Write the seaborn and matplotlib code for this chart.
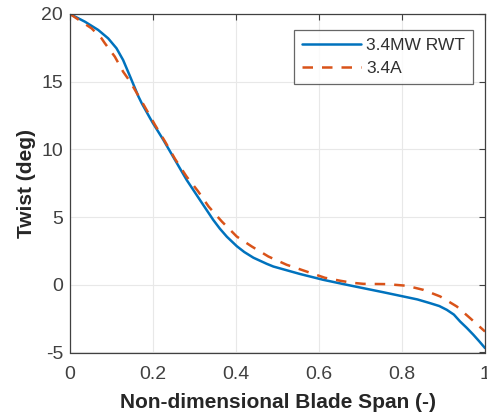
import numpy as np
import pandas as pd
import matplotlib
matplotlib.use("Agg")
import matplotlib.pyplot as plt
import seaborn as sns

span_rwt = [0.0, 0.036, 0.068, 0.092, 0.112, 0.128, 0.145, 0.165, 0.173, 0.193, 0.2,
            0.225, 0.253, 0.281, 0.313, 0.345, 0.361, 0.378, 0.402, 0.42, 0.442,
            0.474, 0.49, 0.554, 0.61, 0.667, 0.707, 0.755, 0.803, 0.837, 0.867,
            0.89, 0.908, 0.925, 0.94, 0.956, 0.972, 0.986, 1.0]
twist_rwt = [20.0, 19.43, 18.82, 18.2, 17.47, 16.6, 15.37, 13.9, 13.4, 12.3, 11.93,
             10.7, 9.22, 7.75, 6.27, 4.8, 4.15, 3.55, 2.85, 2.42, 2.0,
             1.55, 1.35, 0.8, 0.37, 0.0, -0.25, -0.55, -0.86, -1.08, -1.35,
             -1.57, -1.85, -2.2, -2.71, -3.18, -3.69, -4.17, -4.67]

span_34a = [0.0, 0.052, 0.076, 0.084, 0.108, 0.128, 0.145, 0.18, 0.205, 0.229,
            0.253, 0.281, 0.309, 0.334, 0.366, 0.402, 0.438, 0.478, 0.522, 0.57,
            0.614, 0.651, 0.68, 0.707, 0.763, 0.811, 0.851, 0.892, 0.932, 0.964,
            1.0]
twist_34a = [20.0, 18.94, 18.2, 17.84, 16.85, 15.74, 15.0, 13.16, 11.8, 10.58,
             9.3, 7.99, 6.89, 5.78, 4.67, 3.56, 2.83, 2.09, 1.48, 0.98,
             0.52, 0.3, 0.15, 0.07, 0.05, -0.07, -0.37, -0.86, -1.6, -2.46,
             -3.45]

labels = ["3.4MW RWT", "3.4A"]

df = pd.concat([
    pd.DataFrame({"span": span_rwt, "twist": twist_rwt, "blade": labels[0]}),
    pd.DataFrame({"span": span_34a, "twist": twist_34a, "blade": labels[1]}),
], ignore_index=True)

sns.set_style("white")
plt.rcParams["font.family"] = ["Liberation Sans", "DejaVu Sans"]
plt.rcParams["axes.unicode_minus"] = False

fig = plt.figure(figsize=(4.87, 4.17), dpi=100)
ax = fig.add_axes([70 / 487, 1 - 352.5 / 417, 415 / 487, 338.5 / 417])

sns.lineplot(data=df, x="span", y="twist", hue="blade", style="blade",
             palette={labels[0]: "#0072BD", labels[1]: "#D95319"},
             dashes={labels[0]: "", labels[1]: (4.2, 3.6)},
             linewidth=1.8, sort=False, estimator=None, ax=ax)

ax.set_xlim(0, 1)
ax.set_ylim(-5, 20)
ax.set_xticks([0, 0.2, 0.4, 0.6, 0.8, 1])
ax.set_xticklabels(["0", "0.2", "0.4", "0.6", "0.8", "1"])
ax.set_yticks([-5, 0, 5, 10, 15, 20])
ax.grid(True, color="#e8e8e8", linewidth=0.8)
ax.tick_params(direction="in", length=4, labelsize=14, colors="#404040",
               top=True, right=True)
ax.tick_params(axis="x", pad=10)
ax.tick_params(axis="y", pad=5)
for s in ax.spines.values():
    s.set_color("#404040")
    s.set_linewidth(0.9)
ax.set_xlabel("Non-dimensional Blade Span (-)", fontsize=15, fontweight="bold",
              color="#262626", labelpad=7)
ax.set_ylabel("Twist (deg)", fontsize=15, fontweight="bold", color="#262626",
              labelpad=4)

leg = ax.legend(loc="upper right", bbox_to_anchor=(403 / 415, 322.5 / 338.5),
                borderaxespad=0, frameon=True,
                fancybox=False, edgecolor="#404040", fontsize=12.5,
                handlelength=3.4, handletextpad=0.3, borderpad=0.45,
                labelspacing=0.45)
leg.get_frame().set_linewidth(0.9)
for t in leg.get_texts():
    t.set_color("#303030")

fig.savefig("out.png", dpi=100)
